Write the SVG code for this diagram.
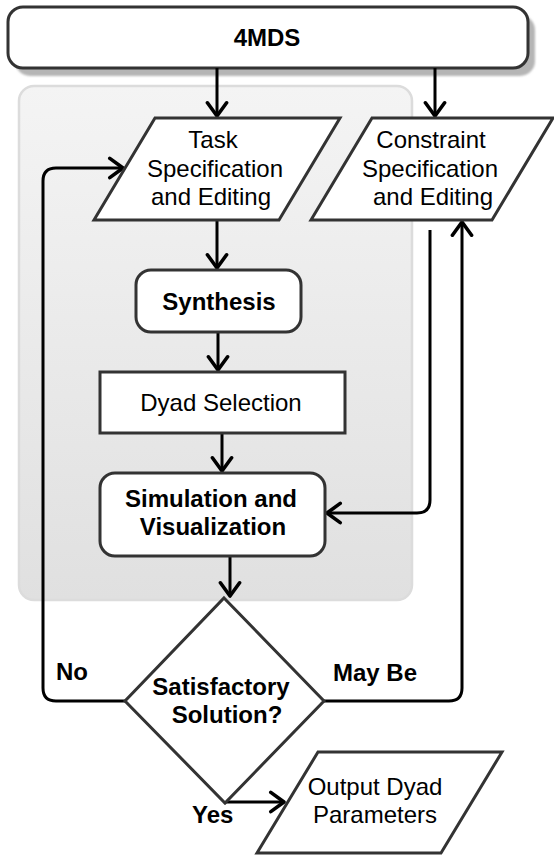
<svg xmlns="http://www.w3.org/2000/svg" width="554" height="856" viewBox="0 0 554 856">
<style>
.node{fill:#fff;stroke:#333;stroke-width:3}
.t{font-family:"Liberation Sans",Arial,sans-serif;font-size:24px;fill:#000;text-anchor:middle}
.b{font-weight:bold}
.lbl{font-family:"Liberation Sans",Arial,sans-serif;font-size:24px;font-weight:bold;fill:#000}
.c{fill:none;stroke:#000;stroke-width:3;stroke-linejoin:round}
</style>
<defs>
<linearGradient id="grad" x1="0" y1="0" x2="0" y2="1">
<stop offset="0" stop-color="#f4f4f4"/>
<stop offset="1" stop-color="#e0e0e0"/>
</linearGradient>
<marker id="arr" markerUnits="userSpaceOnUse" markerWidth="24" markerHeight="24" viewBox="-14 -10 16 20" refX="0" refY="0" orient="auto">
<path d="M-11,-8 L0,0 L-11,8" fill="none" stroke="#000" stroke-width="3" stroke-linejoin="round" stroke-linecap="round"/>
</marker>
<filter id="blur" x="-10%" y="-10%" width="120%" height="140%"><feGaussianBlur stdDeviation="1"/></filter>
</defs>

<g id="container">
<rect x="19" y="86" width="393" height="514" rx="15" fill="url(#grad)" stroke="#dcdcdc" stroke-width="2.5"/>
</g>

<g id="n-4mds">
<rect x="15" y="15" width="520" height="61" rx="15" fill="#b5b5b5" filter="url(#blur)"/>
<rect class="node" x="8" y="7" width="520" height="61" rx="15"/>
<text class="t b" x="267" y="46">4MDS</text>
</g>

<g id="connectors">
<path class="c" d="M217,68 V116" marker-end="url(#arr)"/>
<path class="c" d="M435,68 V116" marker-end="url(#arr)"/>
<path class="c" d="M217,220 V268" marker-end="url(#arr)"/>
<path class="c" d="M218,332 V370" marker-end="url(#arr)"/>
<path class="c" d="M222,433 V471" marker-end="url(#arr)"/>
<path class="c" d="M230,556 V596" marker-end="url(#arr)"/>
<path class="c" d="M430,230 V500 Q430,513 417,513 H327" marker-end="url(#arr)"/>
<path class="c" d="M324,701 H449 Q462,701 462,688 V222" marker-end="url(#arr)"/>
<path class="c" d="M125,701 H56 Q43,701 43,688 V181 Q43,168 56,168 H123" marker-end="url(#arr)"/>
<path class="c" d="M225,802 H284" marker-end="url(#arr)"/>
</g>

<g id="n-task">
<polygon class="node" points="155,118 340,118 279,220 94,220"/>
<text class="t" x="213" y="148">Task</text>
<text class="t" x="215" y="177">Specification</text>
<text class="t" x="211" y="205">and Editing</text>
</g>

<g id="n-constraint">
<polygon class="node" points="372,118 553,118 492,220 311,220"/>
<text class="t" x="431" y="148">Constraint</text>
<text class="t" x="430" y="177">Specification</text>
<text class="t" x="433" y="205">and Editing</text>
</g>

<g id="n-synthesis">
<rect class="node" x="136" y="270" width="165" height="62" rx="15"/>
<text class="t b" x="219" y="310">Synthesis</text>
</g>

<g id="n-dyad">
<rect class="node" x="100" y="372" width="245" height="61"/>
<text class="t" x="221" y="411">Dyad Selection</text>
</g>

<g id="n-sim">
<rect class="node" x="100" y="473" width="225" height="83" rx="15"/>
<text class="t b" x="211" y="507">Simulation and</text>
<text class="t b" x="213" y="535">Visualization</text>
</g>

<g id="n-decision">
<polygon class="node" points="224,598 324,701 225,803 125,701"/>
<text class="t b" x="221" y="695">Satisfactory</text>
<text class="t b" x="227" y="723">Solution?</text>
</g>

<g id="n-output">
<polygon class="node" points="318,752 502,752 441,853 257,853"/>
<text class="t" x="375" y="795">Output Dyad</text>
<text class="t" x="375" y="823">Parameters</text>
</g>

<g id="labels">
<text class="lbl" x="56" y="680">No</text>
<text class="lbl" x="333" y="681">May Be</text>
<text class="lbl" x="192" y="823">Yes</text>
</g>
</svg>
